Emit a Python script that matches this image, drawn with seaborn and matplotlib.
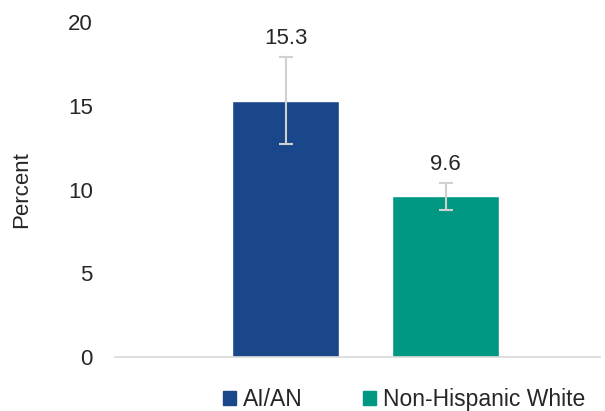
import numpy as np
import pandas as pd
import matplotlib
matplotlib.use("Agg")
import matplotlib.pyplot as plt
import seaborn as sns

# Data
groups = ["AI/AN", "Non-Hispanic White"]
percent = [15.3, 9.6]
ci_low = [12.7, 8.8]
ci_high = [17.9, 10.4]
colors = ["#1a4789", "#009882"]

df = pd.DataFrame({"group": groups, "percent": percent})

sns.set_style("white")
plt.rcParams["font.family"] = ["Liberation Sans", "DejaVu Sans"]

fig = plt.figure(figsize=(6.05, 4.11), dpi=100)
ax = fig.add_axes([0.19, 0.131, 0.802, 0.815])

sns.barplot(data=df, x="group", y="percent", hue="group", palette=colors,
            width=0.67, errorbar=None, legend=False, ax=ax, saturation=1)

# error bars
xs = np.arange(len(groups))
lower = np.array(percent) - np.array(ci_low)
upper = np.array(ci_high) - np.array(percent)
ax.errorbar(xs, percent, yerr=[lower, upper], fmt="none", ecolor="#d0d0d0",
            elinewidth=1.5, capsize=5, capthick=1.5)

# value labels above error bars
for x, v, hi in zip(xs, percent, ci_high):
    ax.annotate(f"{v}", (x, hi), xytext=(0, 6), textcoords="offset points",
                ha="center", va="bottom", fontsize=16, color="#262626")

ax.set_ylim(0, 20)
ax.set_yticks([0, 5, 10, 15, 20])
ax.set_xlim(-1.066, 1.966)
ax.set_xticks([])
ax.set_xlabel("")
ax.set_ylabel("Percent", fontsize=16, color="#262626", labelpad=26)
ax.tick_params(axis="y", labelsize=16, labelcolor="#262626", length=0, pad=16)

for s in ["top", "right", "left"]:
    ax.spines[s].set_visible(False)
ax.spines["bottom"].set_color("#d9d9d9")
ax.spines["bottom"].set_linewidth(1.2)

handles = [plt.Rectangle((0, 0), 1, 1, color=c) for c in colors]
fig.legend(handles, groups, loc="lower center", bbox_to_anchor=(0.668, -0.05),
           ncol=2, frameon=False, fontsize=16.5, handlelength=0.6, handleheight=0.6,
           handletextpad=0.3, columnspacing=2.6)

fig.savefig("out.png", dpi=100)
